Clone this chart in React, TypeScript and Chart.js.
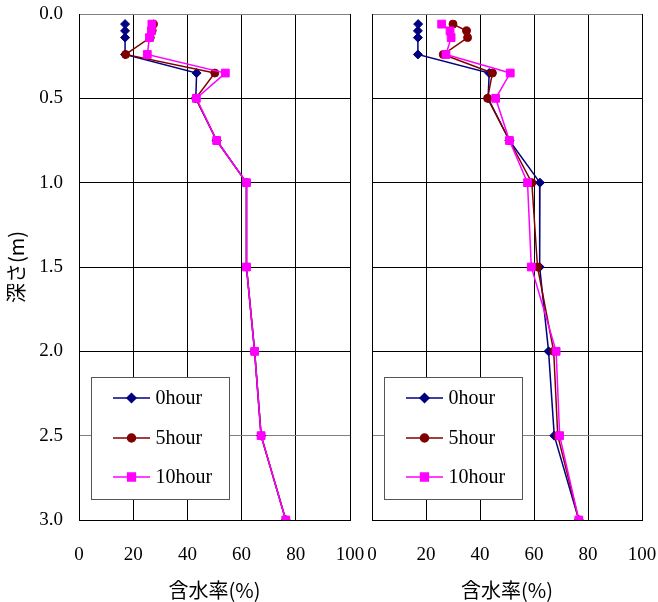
import React, { useEffect, useRef } from 'react';
import { Chart, registerables } from 'chart.js';
import { drawPoint } from 'chart.js/helpers';

Chart.register(...registerables);

// ---- data ----
const depths = [0.06, 0.1, 0.14, 0.24, 0.35, 0.5, 0.75, 1.0, 1.5, 2.0, 2.5, 3.0];
const seriesNames = ['0hour', '5hour', '10hour'];

const leftH0 = [17, 17, 17, 17, 43.4, 43.1, 50.8, 61.8, 61.8, 64.8, 67.2, 76.3];
const leftH5 = [27.5, 27, 26.3, 17.2, 50.1, 43.1, 50.8, 61.8, 61.8, 64.8, 67.2, 76.3];
const leftH10 = [26.9, 26.7, 26, 25.2, 54, 43.3, 50.8, 61.8, 61.8, 64.8, 67.2, 76.3];

const rightH0 = [17.1, 17, 17, 17, 43.4, 43, 50.9, 62.2, 62.1, 65.4, 67.5, 76.6];
const rightH5 = [30, 35, 35.4, 26.4, 44.6, 42.8, 50.9, 59.2, 61.3, 67.3, 68.8, 76.6];
const rightH10 = [25.8, 28.9, 29.3, 27.4, 51.2, 45.8, 50.9, 57.6, 59, 68.2, 69.5, 76.6];

const xMin = 0;
const xMax = 100;
const xStep = 20;
const yMin = 0;
const yMax = 3;
const yStep = 0.5;
const grayGridDepths = [0, 2.5];

const xTitle = '含水率(%)';
const yTitle = '深さ(m)';

// ---- styles ----
const colors = ['#000080', '#800000', '#FF00FF'];
const pointStyles = ['rectRot', 'circle', 'rect'];
const pointRadii = [4.5, 4, 5.5];
const serifFont = '"Liberation Serif", "Times New Roman", serif';
const cjkFont = '"Noto Sans CJK JP", "Noto Sans", sans-serif';

const boxLegend = {
  id: 'boxLegend',
  afterDatasetsDraw(chart: any, _args: any, opts: any) {
    const { ctx, chartArea } = chart;
    const left = chartArea.left + opts.offsetX;
    const top = opts.top;
    const w = opts.width;
    const h = opts.height;
    ctx.save();
    ctx.fillStyle = '#ffffff';
    ctx.fillRect(left, top, w, h);
    ctx.strokeStyle = '#555555';
    ctx.lineWidth = 1;
    ctx.strokeRect(Math.round(left) + 0.5, Math.round(top) + 0.5, w, h);
    chart.data.datasets.forEach((ds: any, i: number) => {
      const y = top + opts.rowTops[i];
      ctx.strokeStyle = ds.borderColor;
      ctx.lineWidth = 1.5;
      ctx.beginPath();
      ctx.moveTo(left + 22, y);
      ctx.lineTo(left + 59, y);
      ctx.stroke();
      ctx.fillStyle = ds.backgroundColor;
      ctx.strokeStyle = ds.borderColor;
      drawPoint(ctx, { pointStyle: ds.pointStyle, radius: ds.pointRadius, rotation: 0, borderWidth: 1 }, left + 40.5, y);
      ctx.fillStyle = '#000000';
      ctx.font = `20px ${serifFont}`;
      ctx.textBaseline = 'middle';
      ctx.textAlign = 'left';
      ctx.fillText(ds.label, left + 64.5, y + 1);
    });
    ctx.restore();
  },
};

type ProfileProps = {
  series: number[][];
  canvasLeft: number;
  canvasWidth: number;
  yScaleWidth: number;
  padRight: number;
  showYLabels: boolean;
};

function ProfileChart({ series, canvasLeft, canvasWidth, yScaleWidth, padRight, showYLabels }: ProfileProps) {
  const ref = useRef<HTMLCanvasElement | null>(null);
  useEffect(() => {
    if (!ref.current) return;
    const datasets = series.map((vals, i) => ({
      label: seriesNames[i],
      data: vals.map((v, k) => ({ x: v, y: depths[k] })),
      borderColor: colors[i],
      backgroundColor: colors[i],
      borderWidth: 1.5,
      pointStyle: pointStyles[i],
      pointRadius: pointRadii[i],
      pointBorderWidth: 1,
      showLine: true,
      order: 2 - i,
    }));
    const chart = new Chart(ref.current, {
      type: 'scatter',
      data: { datasets },
      plugins: [boxLegend],
      options: {
        animation: false,
        responsive: false,
        maintainAspectRatio: false,
        layout: { padding: { left: 0, right: padRight, top: 14, bottom: 0 } },
        plugins: {
          legend: { display: false },
          tooltip: { enabled: false },
          boxLegend: { offsetX: 12, top: 377, width: 138, height: 122, rowTops: [21, 61, 100] },
        } as any,
        scales: {
          x: {
            type: 'linear',
            min: xMin,
            max: xMax,
            ticks: {
              stepSize: xStep,
              color: '#000',
              font: { family: serifFont, size: 19 },
              padding: 0,
              maxRotation: 0,
            },
            grid: { color: '#000', lineWidth: 1, drawTicks: true, tickLength: 24, tickColor: 'rgba(0,0,0,0)' },
            border: { color: '#000', width: 1 },
            title: {
              display: true,
              text: xTitle,
              color: '#000',
              font: { family: cjkFont, size: 20 },
              padding: { top: 0, bottom: 0 },
            },
            afterFit: (scale: any) => {
              scale.height = 82;
            },
          },
          y: {
            type: 'linear',
            reverse: true,
            min: yMin,
            max: yMax,
            ticks: {
              display: showYLabels,
              stepSize: yStep,
              color: '#000',
              font: { family: serifFont, size: 19 },
              padding: 0,
              callback: (v: any) => Number(v).toFixed(1),
            },
            grid: {
              color: (c: any) => (c.tick && grayGridDepths.includes(c.tick.value) ? '#808080' : '#000'),
              lineWidth: 1,
              drawTicks: showYLabels,
              tickLength: 16,
              tickColor: 'rgba(0,0,0,0)',
            },
            border: { color: '#000', width: 1 },
            title: {
              display: showYLabels,
              text: yTitle,
              color: '#000',
              font: { family: cjkFont, size: 20 },
              padding: { top: 4, bottom: 0 },
            },
            afterFit: (scale: any) => {
              scale.width = yScaleWidth;
            },
          },
        },
      } as any,
    });
    return () => chart.destroy();
  }, [series, canvasLeft, canvasWidth, yScaleWidth, padRight, showYLabels]);
  return (
    <canvas
      ref={ref}
      width={canvasWidth}
      height={602}
      style={{ position: 'absolute', left: canvasLeft, top: 0, width: canvasWidth, height: 602 }}
    />
  );
}

const leftSeries = [leftH0, leftH5, leftH10];
const rightSeries = [rightH0, rightH5, rightH10];

export default function App() {
  return (
    <div style={{ position: 'absolute', left: 0, top: 0, width: 658, height: 602, background: '#fff', overflow: 'hidden' }}>
      <ProfileChart series={leftSeries} canvasLeft={0} canvasWidth={380} yScaleWidth={79} padRight={30} showYLabels={true} />
      <ProfileChart series={rightSeries} canvasLeft={340} canvasWidth={318} yScaleWidth={32} padRight={16} showYLabels={false} />
    </div>
  );
}
